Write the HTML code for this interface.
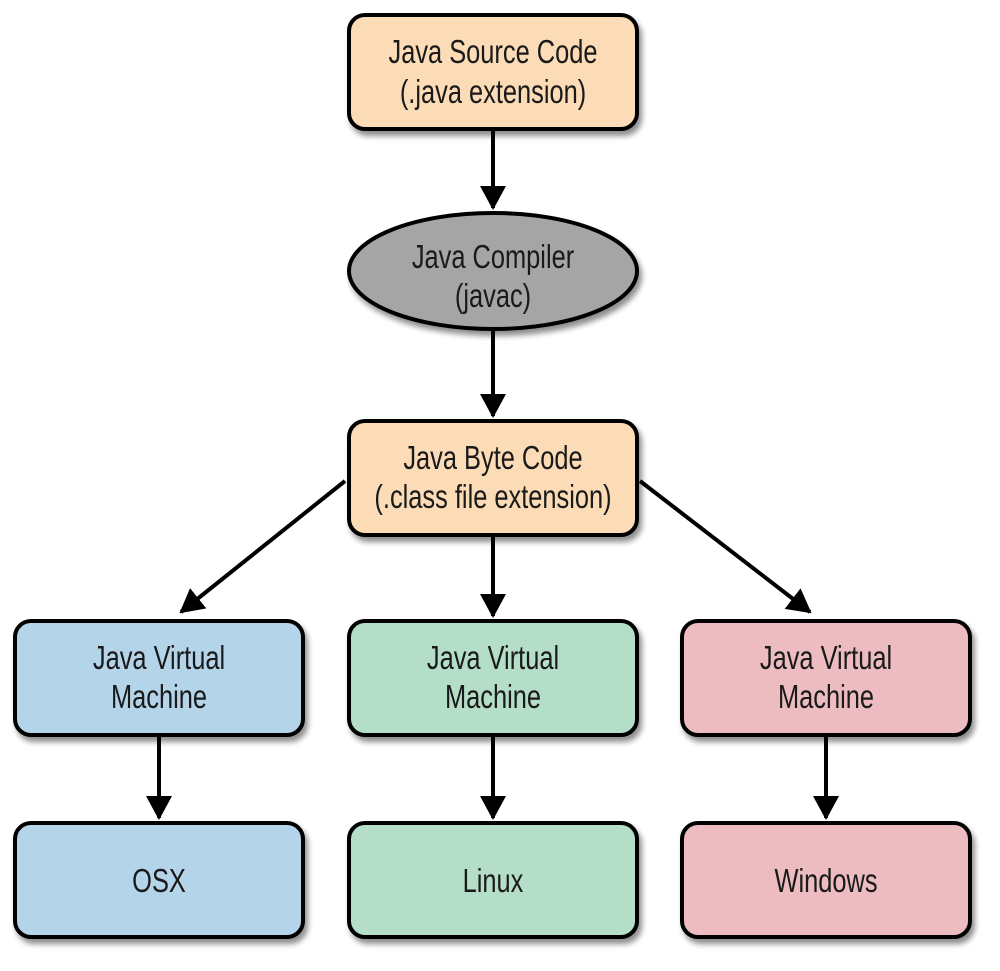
<!DOCTYPE html>
<html><head><meta charset="utf-8"><style>
body{margin:0;background:#fff;width:1000px;height:966px;overflow:hidden}
svg text{font-family:"Liberation Sans Narrow","Liberation Sans",sans-serif;font-size:33px;fill:#1a1a1a;text-anchor:middle}
</style></head><body>
<svg width="1000" height="966" viewBox="0 0 1000 966">
<defs>
<filter id="sh" x="-10%" y="-10%" width="130%" height="140%"><feGaussianBlur in="SourceAlpha" stdDeviation="3"/><feOffset dx="3" dy="5"/><feComponentTransfer><feFuncA type="linear" slope="0.45"/></feComponentTransfer><feMerge><feMergeNode/><feMergeNode in="SourceGraphic"/></feMerge></filter>
<marker id="ah" markerWidth="28" markerHeight="26" refX="22" refY="13" orient="auto" markerUnits="userSpaceOnUse"><path d="M0,0 L24,13 L0,26 z" fill="#000"/></marker>
</defs>
<g stroke="#000" stroke-width="4" filter="url(#sh)">
<rect x="349" y="15" width="288" height="114" rx="16" fill="#fcdcb6"/>
<ellipse cx="493" cy="271" rx="144" ry="58" fill="#a5a5a5"/>
<rect x="349" y="421" width="288" height="114" rx="16" fill="#fcdcb6"/>
<rect x="15" y="621" width="288" height="114" rx="16" fill="#b4d4ea"/>
<rect x="349" y="621" width="288" height="114" rx="16" fill="#b4dec8"/>
<rect x="682" y="621" width="288" height="114" rx="16" fill="#ecbcc0"/>
<rect x="15" y="823" width="288" height="114" rx="16" fill="#b4d4ea"/>
<rect x="349" y="823" width="288" height="114" rx="16" fill="#b4dec8"/>
<rect x="682" y="823" width="288" height="114" rx="16" fill="#ecbcc0"/>
</g>
<g stroke="#000" stroke-width="4" marker-end="url(#ah)">
<line x1="493" y1="131" x2="493" y2="208"/>
<line x1="493" y1="331" x2="493" y2="416"/>
<line x1="493" y1="537" x2="493" y2="616"/>
<line x1="345" y1="481" x2="181" y2="612"/>
<line x1="640" y1="481" x2="810" y2="612"/>
<line x1="159" y1="737" x2="159" y2="818"/>
<line x1="493" y1="737" x2="493" y2="818"/>
<line x1="826" y1="737" x2="826" y2="818"/>
</g>
<g transform="translate(493,0) scale(0.77,1)">
<text x="0" y="63">Java Source Code</text>
<text x="0" y="103">(.java extension)</text>
<text x="0" y="268">Java Compiler</text>
<text x="0" y="307">(javac)</text>
<text x="0" y="469">Java Byte Code</text>
<text x="0" y="508">(.class file extension)</text>
<text x="0" y="669">Java Virtual</text>
<text x="0" y="708">Machine</text>
<text x="0" y="892">Linux</text>
</g>
<g transform="translate(159,0) scale(0.77,1)">
<text x="0" y="669">Java Virtual</text>
<text x="0" y="708">Machine</text>
<text x="0" y="892">OSX</text>
</g>
<g transform="translate(826,0) scale(0.77,1)">
<text x="0" y="669">Java Virtual</text>
<text x="0" y="708">Machine</text>
<text x="0" y="892">Windows</text>
</g>
</svg>
</body></html>
